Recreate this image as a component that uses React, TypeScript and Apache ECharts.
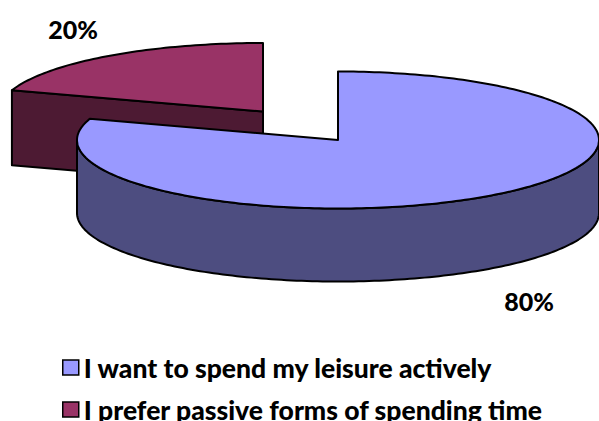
import React, { useEffect, useRef } from "react";
import * as echarts from "echarts";

const categories = ["I want to spend my leisure actively", "I prefer passive forms of spending time"];
const values = [80, 20];
const valueLabels = ["80%", "20%"];
const total = values.reduce((a, b) => a + b, 0);

const colors = ["#9999FF", "#993366"];
const sideColors = ["#4D4D80", "#4D1A33"];
const FONT = "Lato, sans-serif";

const geom = [
  { cx: 338, cy: 140, rx: 261, ry: 68.5, depth: 73, label: [529, 301] },
  { cx: 263, cy: 111.5, rx: 264, ry: 68.5, depth: 75, label: [73, 29] },
];

const startFraction = (i: number) => values.slice(0, i).reduce((a, b) => a + b, 0) / total;

function arc(g: any, a0: number, a1: number, dy = 0) {
  const pts: number[][] = [];
  const n = Math.max(2, Math.ceil(Math.abs(a1 - a0) / 0.02));
  for (let k = 0; k <= n; k++) {
    const t = a0 + ((a1 - a0) * k) / n;
    pts.push([g.cx + g.rx * Math.sin(t), g.cy - g.ry * Math.cos(t) + dy]);
  }
  return pts;
}

function makeRender(i: number) {
  return (_p: any, api: any) => {
    const TAU = Math.PI * 2;
    const g = geom[i];
    const a0 = startFraction(i) * TAU;
    const a1 = a0 + (api.value(0) / total) * TAU;
    const stroke = { stroke: "#000", lineWidth: 2, lineJoin: "round" };
    const children: any[] = [];
    const side = { fill: sideColors[i], ...stroke };
    const apex = [g.cx, g.cy];
    if (i === 1) {
      // cut face seen between the two radii
      const pA = [g.cx + g.rx * Math.sin(a0), g.cy - g.ry * Math.cos(a0)];
      children.push({
        type: "polygon",
        shape: { points: [pA, [pA[0], pA[1] + g.depth], [g.cx, g.cy + g.depth], apex] },
        style: side,
      });
    }
    // outer wall: the front half of the rim
    const w0 = Math.max(a0, Math.PI / 2);
    const w1 = Math.min(a1, (Math.PI * 3) / 2);
    if (w1 > w0) {
      const top = arc(g, w0, w1);
      const bot = arc(g, w0, w1, g.depth).reverse();
      children.push({ type: "polygon", shape: { points: [...top, ...bot] }, style: side });
    }
    // top face
    children.push({
      type: "polygon",
      shape: { points: [apex, ...arc(g, a0, a1)] },
      style: { fill: colors[i], ...stroke },
    });
    children.push({
      type: "text",
      style: {
        text: valueLabels[i],
        x: g.label[0],
        y: g.label[1],
        fill: "#000",
        font: `900 25px ${FONT}`,
        textAlign: "center",
        textVerticalAlign: "middle",
      },
    });
    return { type: "group", children };
  };
}

export default function App() {
  const ref = useRef<HTMLDivElement>(null);
  useEffect(() => {
    document.body.style.margin = "0";
    const chart = echarts.init(ref.current!, undefined, { renderer: "svg" });
    // the red slice sits behind the blue one
    const order = [1, 0];
    chart.setOption({
      animation: false,
      backgroundColor: "#fff",
      legend: {
        data: categories.map((name) => ({ name })),
        orient: "vertical",
        left: 62,
        top: 354,
        height: 120,
        itemWidth: 16,
        itemHeight: 15,
        itemGap: 15,
        padding: 0,
        icon: "rect",
        selectedMode: false,
        itemStyle: { borderColor: "#000", borderWidth: 1.5 },
        textStyle: { fontFamily: FONT, fontWeight: 900, fontSize: 26.5, lineHeight: 26, color: "#000" },
      },
      series: order.map((i) => ({
        type: "custom",
        name: categories[i],
        coordinateSystem: "none",
        itemStyle: { color: colors[i] },
        data: [values[i]],
        renderItem: makeRender(i),
        silent: true,
      })),
    });
    return () => chart.dispose();
  }, []);
  return <div ref={ref} style={{ width: 599, height: 421 }} />;
}
